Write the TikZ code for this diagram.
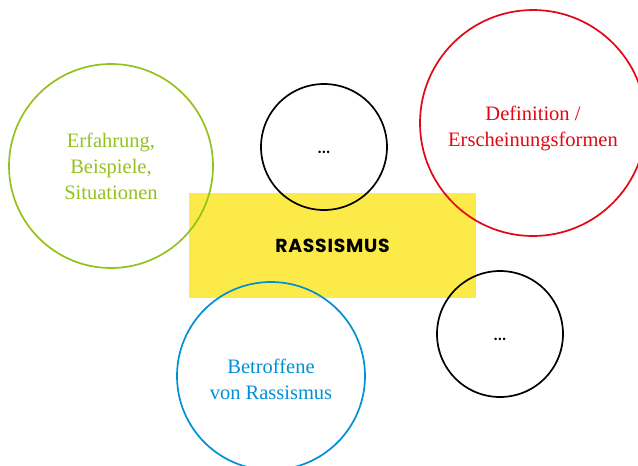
\documentclass[tikz,border=0pt]{standalone}
\usepackage{fontspec}
\setmainfont{Liberation Serif}
\newfontfamily\headfont{Poppins}[LetterSpace=4]
\newfontfamily\dotfont{Poppins}
\definecolor{ragreen}{RGB}{149,193,31}
\definecolor{rared}{RGB}{227,6,19}
\definecolor{rablue}{RGB}{0,144,214}
\definecolor{rayellow}{RGB}{252,234,72}
\tikzset{
  ring/.style={circle, draw=#1, line width=1.7pt, inner sep=0pt},
  ringtext/.style={text=#1, align=center, inner sep=0pt,
    font=\fontsize{20.5}{26}\selectfont},
  emptyring/.style={ring=black, minimum size=126pt,
    font=\dotfont\fontsize{20}{20}\selectfont}
}
\begin{document}
\begin{tikzpicture}[x=1pt,y=-1pt]
  \clip (0,0) rectangle (638,466);
  \node[fill=rayellow, minimum width=287pt, minimum height=105pt, inner sep=0pt,
    font=\headfont\bfseries\fontsize{18.8}{20}\selectfont] (rassismus) at (332.5,245.5) {RASSISMUS};
  \node[ring=ragreen, minimum size=204pt] (erfahrung) at (111,166) {};
  \node[ring=rared, minimum size=226pt] (definition) at (533,123) {};
  \node[ring=rablue, minimum size=188pt] (betroffene) at (271,376) {};
  \node[ringtext=ragreen] (erfahrungtext) at (erfahrung.center) {Erfahrung,\\Beispiele,\\Situationen};
  \node[ringtext=rared] (definitiontext) at ([yshift=-5pt]definition.center) {Definition /\\Erscheinungsformen};
  \node[ringtext=rablue] (betroffenetext) at ([yshift=-3.5pt]betroffene.center) {Betroffene\\von Rassismus};
  \node[emptyring] (leerA) at (324,147) {\raisebox{-6pt}[0pt][0pt]{...}};
  \node[emptyring] (leerB) at (500,334) {\raisebox{-6pt}[0pt][0pt]{...}};
\end{tikzpicture}
\end{document}
